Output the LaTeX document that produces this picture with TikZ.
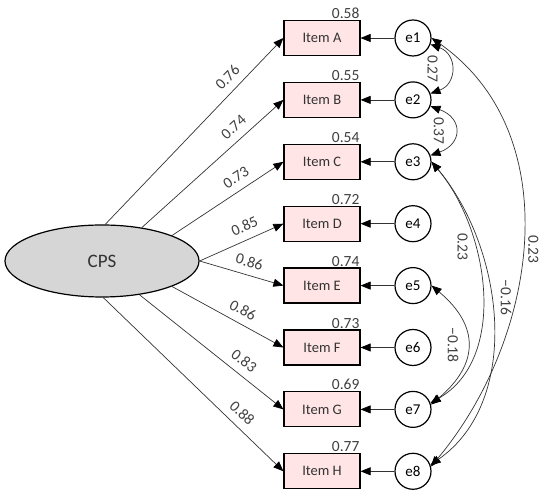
\documentclass[tikz,border=0pt]{standalone}
\usepackage{fontspec}
\setmainfont{Carlito}
\usepackage{tikz}
\usetikzlibrary{arrows.meta,positioning,shapes.geometric}

\begin{document}
\begin{tikzpicture}[x=1pt, y=1pt,
  latent/.style={draw, ellipse, fill=black!16, line width=1.2pt,
                 minimum width=194pt, minimum height=72pt,
                 font=\fontsize{19}{19}\selectfont, text=black!80},
  item/.style={draw, fill=red!10, line width=1.2pt, minimum width=76pt,
               minimum height=35pt, font=\fontsize{14.5}{14.5}\selectfont, text=black!80},
  err/.style={draw, circle, fill=white, line width=1.2pt, minimum size=36pt,
              inner sep=0pt, font=\fontsize{15}{15}\selectfont},
  lab/.style={font=\fontsize{15.5}{15.5}\selectfont, text=black!75, inner sep=1pt},
  r2/.style={lab, anchor=south east},
  ld/.style={lab, sloped, above, outer sep=7pt},
  arr/.style={-{Triangle[length=10pt, width=8pt, color=black]}, line width=0.7pt, black!80},
  cov/.style={{Triangle[length=10pt, width=8pt, color=black]}-{Triangle[length=10pt, width=8pt, color=black]},
              line width=0.7pt, black!80}
]
  \useasboundingbox (0,0) rectangle (550,495);
  % Latent factor
  \node[latent] (cps) at (102,234) {CPS};
  % Observed items
  \node[item, label={[r2]north east:0.58}] (a) at (322,457) {Item A};
  \node[item, label={[r2]north east:0.55}, below=25.7pt of a] (b) {Item B};
  \node[item, label={[r2]north east:0.54}, below=25.7pt of b] (c) {Item C};
  \node[item, label={[r2]north east:0.72}, below=25.7pt of c] (d) {Item D};
  \node[item, label={[r2]north east:0.74}, below=25.7pt of d] (e) {Item E};
  \node[item, label={[r2]north east:0.73}, below=25.7pt of e] (f) {Item F};
  \node[item, label={[r2]north east:0.69}, below=25.7pt of f] (g) {Item G};
  \node[item, label={[r2]north east:0.77}, below=25.7pt of g] (h) {Item H};
  % Error terms
  \node[err, right=33.8pt of a] (e1) {e1};
  \node[err, right=33.8pt of b] (e2) {e2};
  \node[err, right=33.8pt of c] (e3) {e3};
  \node[err, right=33.8pt of d] (e4) {e4};
  \node[err, right=33.8pt of e] (e5) {e5};
  \node[err, right=33.8pt of f] (e6) {e6};
  \node[err, right=33.8pt of g] (e7) {e7};
  \node[err, right=33.8pt of h] (e8) {e8};
  % Loadings
  \draw[arr] (cps.85) -- node[ld, pos=.74] {0.76} (a.west);
  \draw[arr] (cps.40) -- node[ld, pos=.71] {0.74} (b.west);
  \draw[arr] (cps.20) -- node[ld, pos=.64] {0.73} (c.west);
  \draw[arr] (cps.0) -- node[ld, pos=.6] {0.85} (d.west);
  \draw[arr] (cps.0) -- node[ld, pos=.55] {0.86} (e.west);
  \draw[arr] (cps.-20) -- node[ld, pos=.58] {0.86} (f.west);
  \draw[arr] (cps.-42) -- node[ld, pos=.67] {0.83} (g.west);
  \draw[arr] (cps.-88) -- node[ld, pos=.72] {0.88} (h.west);
  % Residuals
  \draw[arr] (e1) -- (a);
  \draw[arr] (e2) -- (b);
  \draw[arr] (e3) -- (c);
  \draw[arr] (e4) -- (d);
  \draw[arr] (e5) -- (e);
  \draw[arr] (e6) -- (f);
  \draw[arr] (e7) -- (g);
  \draw[arr] (e8) -- (h);
  % Error covariances
  \draw[cov] (e1) to[out=-20, in=20, looseness=1.5]
    node[lab, midway, rotate=-90, anchor=north, outer sep=12pt] {0.27} (e2);
  \draw[cov] (e2) to[out=-20, in=20, looseness=1.8]
    node[lab, midway, rotate=-90, anchor=north, outer sep=10pt] {0.37} (e3);
  \draw[cov] (e3.east) to[out=-50, in=30, looseness=.95]
    node[lab, pos=.34, rotate=-90, anchor=north, outer sep=6pt] {0.23} (e7.20);
  \draw[cov] (e3.east) to[out=-50, in=35, looseness=.95]
    node[lab, pos=.43, rotate=-90, anchor=south, outer sep=9pt] {−0.16} (e8.20);
  \draw[cov] (e1.east) to[out=-35, in=50]
    node[lab, pos=.52, rotate=-90, anchor=south, outer sep=5pt] {0.23} (e8.15);
  \draw[cov] (e5.east) to[out=-40, in=40, looseness=1.35]
    node[lab, midway, rotate=-90, anchor=north, outer sep=8pt] {−0.18} (e7.15);
\end{tikzpicture}
\end{document}
